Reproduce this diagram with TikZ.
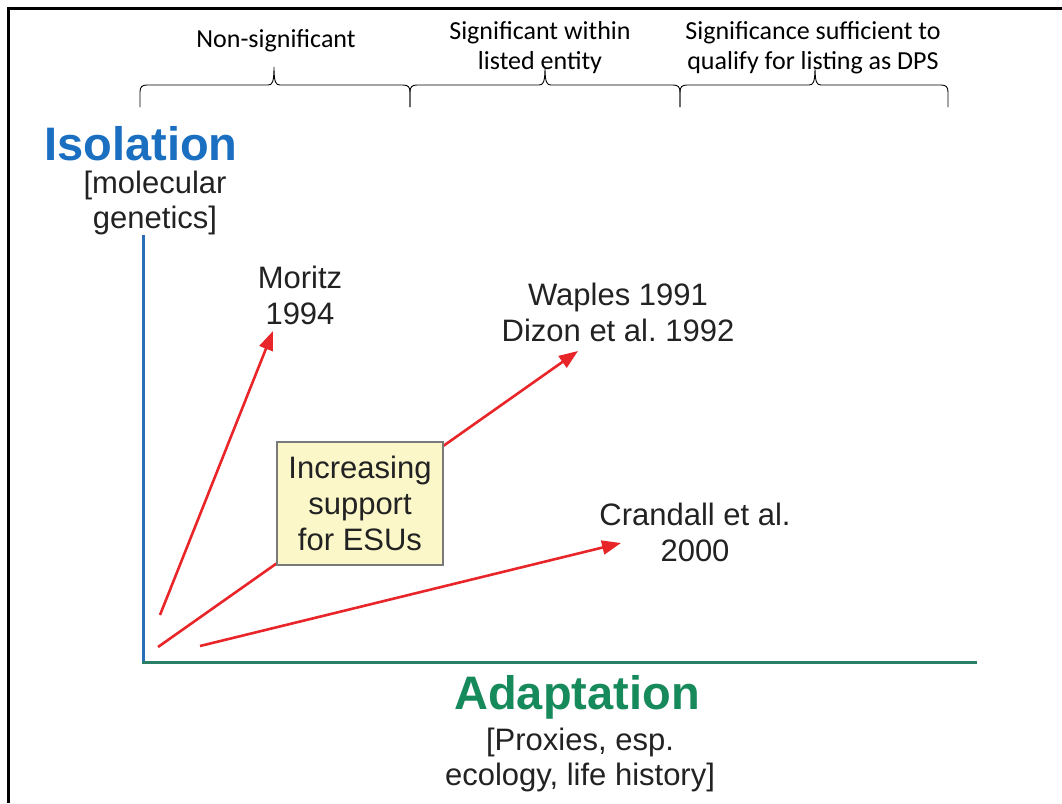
\documentclass[tikz,border=0pt]{standalone}
\usepackage{fontspec}
\setmainfont{Liberation Sans}
\newfontfamily\calib{Carlito}
\usetikzlibrary{arrows.meta}
\definecolor{isoblue}{HTML}{1B6FC0}
\definecolor{axblue}{HTML}{2A6DB5}
\definecolor{adgreen}{HTML}{178A5C}
\definecolor{axgreen}{HTML}{2A8066}
\definecolor{arrred}{HTML}{E8262A}
\definecolor{txtgrey}{HTML}{222222}
\definecolor{boxfill}{HTML}{FBF7C9}
\definecolor{boxline}{HTML}{7A7A7A}
\frenchspacing
\tikzset{
  toplabel/.style={font=\calib\fontsize{26}{30}\selectfont, align=center, text=black, inner sep=0pt},
  axtitle/.style={font=\bfseries\fontsize{47}{50}\selectfont, inner sep=0pt},
  sublabel/.style={font=\fontsize{31}{35}\selectfont, align=center, text=txtgrey, inner sep=0pt},
  reflabel/.style={font=\fontsize{31}{36}\selectfont, align=center, text=txtgrey, inner sep=0pt},
  redarrow/.style={draw=arrred, line width=2.6pt, -{Triangle[length=19pt,width=14pt]}},
  bracepath/.style={draw=black, line width=0.9pt},
  esubox/.style={draw=boxline, line width=1.5pt, fill=boxfill, minimum width=166pt, minimum height=123pt, inner sep=0pt, align=center, font=\fontsize{31}{36}\selectfont, text=txtgrey}
}
\newcommand{\mybrace}[3]{%
  \draw[bracepath] (#1,107) -- (#1,92) .. controls (#1,87) and (#1+2,85) .. (#1+7,85)
    -- (#2-6,85) .. controls (#2-2,85) and (#2,83) .. (#2,67)
    .. controls (#2,83) and (#2+2,85) .. (#2+6,85)
    -- (#3-7,85) .. controls (#3-2,85) and (#3,87) .. (#3,92) -- (#3,107);}
\begin{document}
\begin{tikzpicture}[x=1pt,y=-1pt]
\useasboundingbox (0,0) rectangle (1062,803);
% frame
\draw[line width=3pt, black] (8,803) -- (8,8) -- (1062,8);
% braces
\mybrace{140}{274}{410}
\mybrace{410}{545}{680}
\mybrace{680}{815}{948}
% top labels
\node[toplabel] (ns) at (276,41) {Non-significant};
\node[toplabel] (sw) at (540,48) {Significant within\\listed entity};
\node[toplabel] (ss) at (813,48) {Significance sufficient to\\qualify for listing as DPS};
% axes
\coordinate (orig) at (143,662);
\coordinate (ytop) at (143,235);
\coordinate (xend) at (977,662);
\draw[axblue, line width=3pt] (orig) -- (ytop);
\draw[axgreen, line width=3pt] ([xshift=-1.5pt]orig) -- (xend);
% axis titles
\node[axtitle, text=isoblue] (iso) at (141,144) {Isolation};
\node[sublabel] (isosub) at (155,203) {[molecular\\genetics]};
\node[axtitle, text=adgreen] (adp) at (577,697) {Adaptation};
\node[sublabel] (adpsub) at (580,760) {[Proxies, esp.\\ecology, life history]};
% reference labels
\node[reflabel] (mor) at (300,295) {Moritz\\1994};
\node[reflabel] (wap) at (618,312) {Waples 1991\\Dizon et al. 1992};
\node[reflabel] (cra) at (695,532) {Crandall et al.\\2000};
% arrows
\coordinate (t1) at (160,615);
\coordinate (h1) at (273,331);
\coordinate (t2) at (158,647);
\coordinate (h2) at (578,351);
\coordinate (t3) at (200,646);
\coordinate (h3) at (621,543);
\draw[redarrow] (t1) -- (h1);
\draw[redarrow] (t2) -- (h2);
\draw[redarrow] (t3) -- (h3);
% box
\node[esubox] (box) at (360,503.5) {Increasing\\support\\for ESUs};
\end{tikzpicture}
\end{document}
